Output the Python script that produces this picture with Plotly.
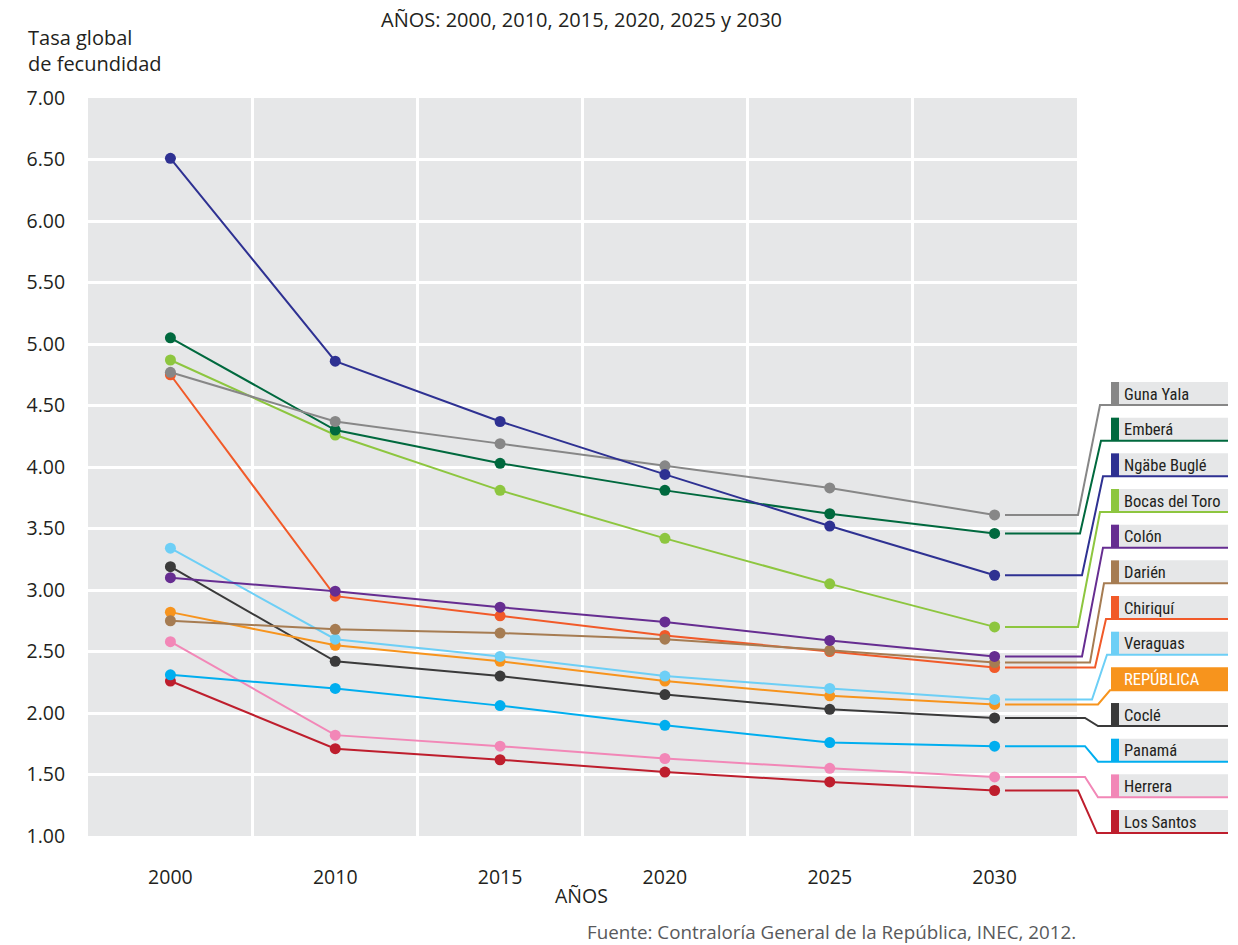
import plotly.graph_objects as go

# Tasa global de fecundidad por provincia / comarca, Panamá
years = ["2000", "2010", "2015", "2020", "2025", "2030"]

guna_yala = [4.77, 4.37, 4.19, 4.01, 3.83, 3.61]
embera = [5.05, 4.30, 4.03, 3.81, 3.62, 3.46]
ngabe_bugle = [6.51, 4.86, 4.37, 3.94, 3.52, 3.12]
bocas_del_toro = [4.87, 4.26, 3.81, 3.42, 3.05, 2.70]
colon = [3.10, 2.99, 2.86, 2.74, 2.59, 2.46]
darien = [2.75, 2.68, 2.65, 2.60, 2.51, 2.41]
chiriqui = [4.75, 2.95, 2.79, 2.63, 2.50, 2.37]
veraguas = [3.34, 2.60, 2.46, 2.30, 2.20, 2.11]
republica = [2.82, 2.55, 2.42, 2.26, 2.14, 2.07]
cocle = [3.19, 2.42, 2.30, 2.15, 2.03, 1.96]
panama = [2.31, 2.20, 2.06, 1.90, 1.76, 1.73]
herrera = [2.58, 1.82, 1.73, 1.63, 1.55, 1.48]
los_santos = [2.26, 1.71, 1.62, 1.52, 1.44, 1.37]

names = ["Guna Yala", "Emberá", "Ngäbe Buglé", "Bocas del Toro", "Colón", "Darién",
         "Chiriquí", "Veraguas", "REPÚBLICA", "Coclé", "Panamá", "Herrera", "Los Santos"]
series = [guna_yala, embera, ngabe_bugle, bocas_del_toro, colon, darien,
          chiriqui, veraguas, republica, cocle, panama, herrera, los_santos]
colors = ["#878787", "#00693e", "#2e3192", "#8dc63f", "#662d91", "#a67c52",
          "#f15a29", "#6dcff6", "#f7941d", "#3a3a3a", "#00aeef", "#f287b7", "#be1e2d"]

# where each leader line leaves the point level and where it reaches its label (pixels)
bend_start = [1078, 1080, 1082, 1078, 1082, 1090, 1095, 1092, 1098, 1085, 1085, 1085, 1078]
bend_end = [1100, 1101, 1103, 1100, 1103, 1104, 1106, 1107, 1110, 1098, 1098, 1098, 1097]

W, H = 1238, 945
L, R, T, B = 88, 1077, 98, 836
YMIN, YMAX = 1.0, 7.0

def px(x):
    return (x - L) / (R - L)

def py(y):
    return (B - y) / (B - T)

def vy(v):
    return (v - YMIN) / (YMAX - YMIN)

FONT = "Open Sans, Noto Sans, sans-serif"
NARROW = "Roboto Condensed, DejaVu Sans Condensed, sans-serif"
FS = 19.5

fig = go.Figure()
xs = list(range(len(years)))
draw_order = [12, 11, 10, 9, 8, 7, 6, 5, 4, 3, 1, 0, 2]
for i in draw_order:
    fig.add_trace(go.Scatter(
        x=xs, y=series[i], mode="lines+markers", name=names[i],
        line=dict(color=colors[i], width=2),
        marker=dict(color=colors[i], size=11),
        showlegend=False, cliponaxis=False,
    ))

shapes = []
annotations = []
row_step = 35.67
for i, name in enumerate(names):
    c = colors[i]
    last = series[i][-1]
    bottom_px = 405 + row_step * i
    top_px = bottom_px - 23
    yl = vy(last)
    # leader line from the 2030 point to its label
    path = (f"M {px(1005)},{yl} L {px(bend_start[i])},{yl} "
            f"L {px(bend_end[i])},{py(bottom_px)} L {px(1228)},{py(bottom_px)}")
    # label box
    if name == "REPÚBLICA":
        shapes.append(dict(type="rect", xref="paper", yref="paper",
                           x0=px(1111), x1=px(1228), y0=py(bottom_px), y1=py(top_px),
                           fillcolor=c, line=dict(width=0), layer="above"))
        txt_color = "white"
    else:
        shapes.append(dict(type="rect", xref="paper", yref="paper",
                           x0=px(1119), x1=px(1228), y0=py(bottom_px), y1=py(top_px),
                           fillcolor="#e6e7e8", line=dict(width=0), layer="above"))
        shapes.append(dict(type="rect", xref="paper", yref="paper",
                           x0=px(1111), x1=px(1119), y0=py(bottom_px), y1=py(top_px),
                           fillcolor=c, line=dict(width=0), layer="above"))
        txt_color = "#231f20"
    shapes.append(dict(type="path", xref="paper", yref="paper", path=path,
                       line=dict(color=c, width=2), layer="above"))
    annotations.append(dict(
        text=name, xref="paper", yref="paper", x=px(1122), y=py((top_px + bottom_px) / 2 + 0.5),
        xanchor="left", yanchor="middle", showarrow=False,
        font=dict(family=NARROW, size=16.5, color=txt_color),
    ))

annotations += [
    dict(text="AÑOS: 2000, 2010, 2015, 2020, 2025 y 2030", xref="paper", yref="paper",
         x=px(581), y=py(19), xanchor="center", yanchor="middle", showarrow=False,
         font=dict(family=FONT, size=20, color="#231f20")),
    dict(text="Tasa global<br>de fecundidad", xref="paper", yref="paper",
         x=px(26), y=py(50), xanchor="left", yanchor="middle", align="left", showarrow=False,
         font=dict(family=FONT, size=20, color="#231f20")),
    dict(text="AÑOS", xref="paper", yref="paper",
         x=px(581), y=py(895), xanchor="center", yanchor="middle", showarrow=False,
         font=dict(family=FONT, size=FS, color="#231f20")),
    dict(text="Fuente: Contraloría General de la República, INEC, 2012.", xref="paper", yref="paper",
         x=px(1078), y=py(932), xanchor="right", yanchor="middle", showarrow=False,
         font=dict(family=FONT, size=18.8, color="#58595b")),
]

fig.update_layout(
    width=W, height=H,
    margin=dict(l=L, r=W - R, t=T, b=H - B),
    paper_bgcolor="white", plot_bgcolor="#e6e7e8",
    font=dict(family=FONT, size=FS, color="#231f20"),
    shapes=shapes, annotations=annotations,
    xaxis=dict(
        range=[-0.5, 5.5], tickvals=xs, ticktext=years, showgrid=False, zeroline=False,
        ticks="outside", ticklen=24, tickcolor="rgba(0,0,0,0)", showline=False,
        tickfont=dict(size=FS),
        minor=dict(tick0=0.5, dtick=1, showgrid=True, gridcolor="white", gridwidth=3),
        fixedrange=True,
    ),
    yaxis=dict(
        range=[YMIN, YMAX], tickvals=[1 + 0.5 * k for k in range(13)], tickformat=".2f",
        showgrid=True, gridcolor="white", gridwidth=3, zeroline=False,
        ticks="outside", ticklen=18, tickcolor="rgba(0,0,0,0)", showline=False,
        tickfont=dict(size=FS),
        fixedrange=True,
    ),
)

fig.write_html("out.html")
